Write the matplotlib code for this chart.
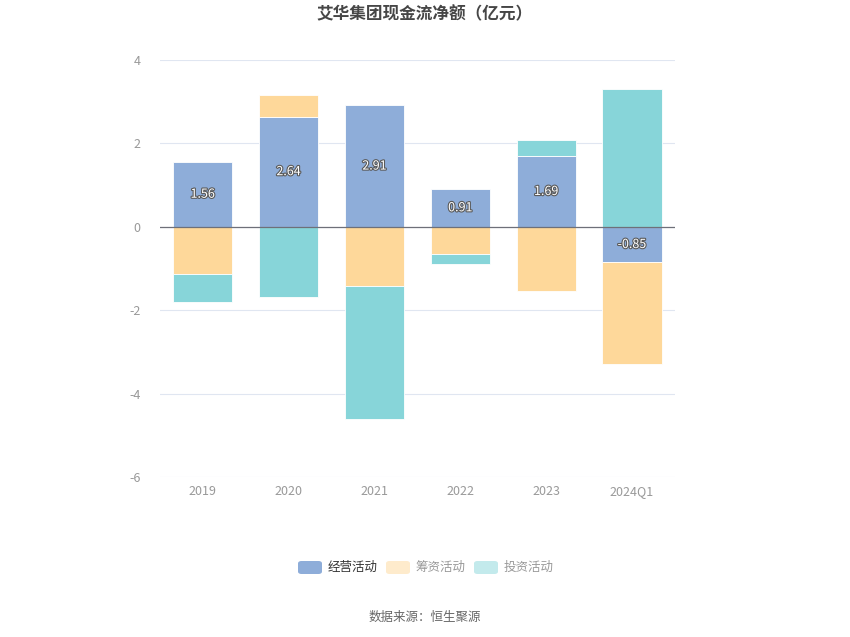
import matplotlib
matplotlib.use("Agg")
import matplotlib.pyplot as plt
import matplotlib.patheffects as pe
from matplotlib.patches import FancyBboxPatch
import numpy as np

plt.rcParams['font.family'] = ['Noto Sans CJK SC', 'DejaVu Sans']

categories = ['2019', '2020', '2021', '2022', '2023', '2024Q1']
operating = [1.56, 2.64, 2.91, 0.91, 1.69, -0.85]
financing = [-1.13, 0.53, -1.41, -0.65, -1.54, -2.44]
investing = [-0.67, -1.68, -3.20, -0.24, 0.38, 3.31]
series_names = ['经营活动', '筹资活动', '投资活动']
colors = ['#8eadd9', '#fed89a', '#87d5d9']
legend_colors = ['#8eadd9', '#feebcc', '#c3eaec']
legend_text_colors = ['#333333', '#999999', '#999999']
yticks = [-6, -4, -2, 0, 2, 4]

fig = plt.figure(figsize=(8.5, 6.37), dpi=100)
ax = fig.add_axes([0.188, 0.251, 0.606, 0.655])

x = np.arange(len(categories))
pos_base = np.zeros(len(categories))
neg_base = np.zeros(len(categories))
for vals, c in zip([operating, financing, investing], colors):
    v = np.array(vals)
    bottoms = np.where(v >= 0, pos_base, neg_base)
    ax.bar(x, v, bottom=bottoms, width=0.69, color=c, edgecolor='white',
           linewidth=0.6, zorder=3)
    pos_base = pos_base + np.where(v >= 0, v, 0)
    neg_base = neg_base + np.where(v < 0, v, 0)

for xi, v in zip(x, operating):
    ax.text(xi, v / 2, f'{v:.2f}', ha='center', va='center', fontsize=9,
            color='white', zorder=5,
            path_effects=[pe.withStroke(linewidth=1.6, foreground='#5a5a5a')])

ax.set_xlim(-0.5, len(categories) - 0.5)
ax.set_ylim(-6, 4)
ax.set_yticks(yticks)
ax.set_yticklabels([str(t) for t in yticks])
ax.set_xticks(x)
ax.set_xticklabels(categories)
ax.grid(axis='y', color='#e0e6f1', linewidth=0.8, zorder=0)
ax.axhline(0, color='#6e7079', linewidth=0.9, zorder=4)
for s in ax.spines.values():
    s.set_visible(False)
ax.tick_params(axis='both', length=0, colors='#999999', labelsize=9)
ax.tick_params(axis='y', pad=14)
ax.tick_params(axis='x', pad=6)

fig.text(0.5, 1 - 14 / 637, '艾华集团现金流净额（亿元）', ha='center', va='center',
         fontsize=12, fontweight='bold', color='#464646')

# legend
W, H = 850, 637
sw_x = [298, 386, 474]
for sx, name, lc, tc in zip(sw_x, series_names, legend_colors, legend_text_colors):
    patch = FancyBboxPatch((sx / W, (H - 574) / H), 24 / W, 13 / H,
                           boxstyle='round,pad=0,rounding_size=0.004',
                           transform=fig.transFigure, facecolor=lc,
                           edgecolor='none')
    fig.patches.append(patch)
    fig.text((sx + 30) / W, 1 - 567.5 / H, name, ha='left', va='center',
             fontsize=9, color=tc)

fig.text(0.5, 1 - 617 / H, '数据来源：恒生聚源', ha='center', va='center',
         fontsize=9, color='#666666')

fig.savefig('out.png', dpi=100)
